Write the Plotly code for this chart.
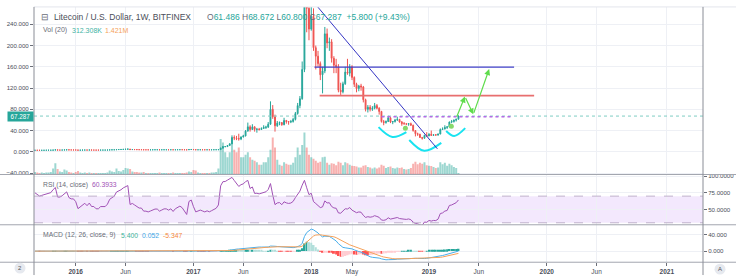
import numpy as np
import pandas as pd
import plotly.graph_objects as go

# ---------------- data (weekly LTC/USD, Bitfinex) ----------------
first_week = "2015-08-31"
first_open = 2.90
close = [
    2.95, 2.90, 2.85, 2.90, 2.95, 3.05, 3.05, 3.10, 3.35, 3.60, 3.30, 3.30, 3.40, 3.60, 3.75, 3.55, 3.50, 3.50,
    3.40, 3.10, 3.20, 3.30, 3.40, 3.30, 3.45, 3.30, 3.30, 3.20, 3.20, 3.30, 3.30, 3.30, 3.40, 3.65, 3.75, 3.85, 4.20, 4.30,
    4.45, 4.70, 4.90, 5.10, 4.20, 4.30, 4.20, 4.10, 4.00, 4.00, 3.80, 3.80, 3.75, 3.80, 3.85, 3.90, 3.90, 3.80, 3.85, 3.90,
    3.90, 3.85, 3.90, 3.80, 3.90, 3.95, 4.00, 3.95, 3.85, 3.70, 4.30, 4.40,
    4.10, 3.80, 3.85, 3.90, 3.85, 3.80, 3.85, 3.80, 3.85, 3.90, 3.95, 4.10, 6.80, 9.60, 9.80, 11.8, 15.0, 27.0, 26.0, 25.0,
    24.0, 28.0, 30.0, 39.0, 47.0, 42.0, 47.0, 42.0, 42.5, 42.0, 44.0, 46.0, 46.5, 52.0, 80.0, 66.0, 49.0, 54.0, 55.0, 51.0,
    59.0, 57.0, 56.0, 57.0, 61.0, 72.0, 87.0, 100.0, 155.0, 305.0, 270.0, 231.0,
    255, 196, 180, 166, 145, 152, 222, 205, 207, 176, 163, 160, 116, 113, 128, 150, 148, 160, 140, 127,
    119, 124, 122, 98, 80, 84, 80, 82, 87, 82, 76, 57, 55, 57, 64, 56, 57, 60, 61, 56,
    53, 53, 52, 53, 50, 40, 34, 33, 27, 25.5, 31, 30, 33,
    31, 32, 31.5, 33.5, 42, 43, 46, 47, 56, 57, 59.5, 61.486, 67.287,
]
high = [
    3.05, 3.00, 2.95, 2.98, 3.00, 3.10, 3.15, 3.20, 3.50, 4.90, 3.80, 3.45, 3.50, 3.70, 4.10, 3.85, 3.65, 3.60,
    3.60, 3.45, 3.30, 3.40, 3.50, 3.45, 3.60, 3.50, 3.40, 3.35, 3.30, 3.35, 3.40, 3.40, 3.50, 3.75, 3.90, 4.00, 4.35, 4.50,
    4.60, 4.90, 5.30, 6.10, 5.30, 4.50, 4.40, 4.30, 4.20, 4.10, 4.05, 3.90, 3.85, 3.90, 3.95, 4.00, 4.00, 3.95, 3.90, 3.95,
    3.95, 3.95, 3.95, 3.95, 3.95, 4.00, 4.10, 4.05, 4.00, 3.90, 4.50, 4.60,
    4.80, 4.20, 3.95, 4.00, 3.95, 3.90, 3.90, 3.90, 3.95, 4.00, 4.05, 4.30, 8.00, 11.0, 10.5, 12.5, 16.0, 31.0, 31.0, 30.0,
    34.0, 29.0, 32.0, 41.0, 55.0, 50.0, 52.0, 48.0, 45.0, 45.0, 46.0, 50.0, 49.0, 56.0, 95.0, 88.0, 70.0, 58.0, 57.0, 56.0,
    64.0, 60.0, 58.0, 60.0, 64.0, 75.0, 92.0, 105.0, 170.0, 375.0, 350.0, 290.0,
    295, 270, 200, 190, 170, 160, 235, 232, 215, 212, 180, 175, 165, 130, 132, 160, 175, 165, 163, 142,
    130, 126, 128, 124, 100, 88, 88, 86, 92, 90, 84, 77, 60, 59, 68, 66, 58, 62, 66, 62,
    58, 56, 54, 54, 55, 51, 41, 36, 34, 28, 32, 37, 35,
    40, 33, 33.5, 34, 44, 46, 50, 48, 57, 60, 61, 62, 68.672,
]
low = [
    2.80, 2.82, 2.78, 2.80, 2.85, 2.90, 2.98, 3.00, 3.05, 3.20, 3.10, 3.10, 3.20, 3.30, 3.50, 3.40, 3.40, 3.40,
    3.30, 3.00, 3.05, 3.15, 3.25, 3.20, 3.25, 3.20, 3.20, 3.10, 3.10, 3.15, 3.20, 3.20, 3.25, 3.35, 3.55, 3.65, 3.80, 4.10,
    4.20, 4.35, 4.60, 4.70, 3.90, 4.00, 4.10, 4.00, 3.90, 3.90, 3.60, 3.70, 3.65, 3.70, 3.75, 3.80, 3.80, 3.75, 3.75, 3.80,
    3.85, 3.80, 3.80, 3.70, 3.75, 3.85, 3.90, 3.90, 3.80, 3.60, 3.65, 4.20,
    3.90, 3.50, 3.75, 3.80, 3.80, 3.70, 3.75, 3.75, 3.75, 3.80, 3.85, 3.90, 4.00, 6.50, 8.80, 9.50, 11.5, 14.5, 22.0, 22.0,
    21.0, 22.0, 27.0, 29.0, 38.0, 38.0, 41.0, 38.0, 36.0, 40.0, 41.0, 43.0, 43.0, 45.0, 51.0, 62.0, 38.0, 47.0, 50.0, 49.0,
    50.0, 53.0, 51.0, 54.0, 55.0, 59.0, 70.0, 82.0, 98.0, 150.0, 225.0, 210.0,
    228, 190, 155, 160, 135, 110, 148, 195, 190, 168, 148, 148, 112, 107, 110, 126, 145, 142, 135, 122,
    112, 114, 115, 93, 76, 74, 76, 77, 80, 80, 70, 55, 50, 53, 56, 54, 52, 55, 58, 55,
    49, 51, 50, 49, 49, 38, 29, 30, 26, 23, 25, 28, 29.5,
    30, 30, 30.5, 30.5, 33, 41, 42, 43, 46, 54, 55, 57, 60.8,
]
volume_m = [
    0.5, 0.4, 0.3, 0.4, 0.3, 0.4, 0.4, 0.5, 1.2, 2.3, 1.1, 0.6, 0.5, 1.0, 0.8, 0.5, 0.4, 0.3,
    0.5, 0.7, 0.4, 0.3, 0.4, 0.3, 0.4, 0.3, 0.3, 0.3, 0.3, 0.3, 0.3, 0.3, 0.4, 0.8, 0.6, 0.5, 1.2, 0.7,
    0.6, 0.9, 1.3, 1.2, 1.1, 0.6, 0.5, 0.5, 0.4, 0.4, 0.5, 0.3, 0.3, 0.3, 0.3, 0.3, 0.3, 0.4, 0.3, 0.3,
    0.3, 0.3, 0.3, 0.4, 0.3, 0.3, 0.3, 0.3, 0.3, 0.4, 0.6, 0.5,
    0.9, 0.8, 0.4, 0.3, 0.3, 0.3, 0.3, 0.3, 0.4, 0.4, 0.5, 1.2, 7.2, 6.5, 4.5, 3.5, 4.5, 6.5, 5.0, 4.5,
    5.5, 3.5, 3.5, 4.0, 4.5, 3.5, 3.0, 2.8, 2.5, 2.0, 2.0, 2.5, 2.5, 3.5, 5.0, 7.5, 5.5, 3.0, 2.0, 1.8,
    2.5, 2.2, 2.0, 2.0, 2.4, 3.5, 5.5, 4.0, 6.0, 8.5, 5.5, 4.0,
    3.5, 3.2, 2.8, 2.4, 2.6, 3.5, 3.6, 2.4, 2.0, 2.3, 2.2, 1.9, 2.6, 2.4, 1.9, 2.5, 2.3, 2.0, 1.8, 1.7,
    1.6, 1.4, 1.4, 1.8, 1.9, 1.5, 1.4, 1.2, 1.4, 1.2, 1.4, 2.0, 1.8, 1.3, 1.5, 1.6, 1.3, 1.2, 1.4, 1.3,
    1.4, 1.1, 1.0, 1.1, 1.3, 2.2, 2.6, 2.1, 2.4, 2.2, 2.5, 1.9, 1.8,
    1.7, 1.5, 1.3, 1.4, 2.5, 2.1, 2.4, 1.8, 2.2, 1.9, 1.5, 1.3, 0.31,
]

x_ticks = ["2016-01-04", "2016-06-06", "2017-01-02", "2017-06-05", "2018-01-01", "2018-05-07",
           "2018-12-31", "2019-06-03", "2019-12-30", "2020-06-01", "2021-01-04"]
x_labels = ["2016", "Jun", "2017", "Jun", "2018", "May", "2019", "Jun", "2020", "Jun", "2021"]
x_is_year = [True, False, True, False, True, False, True, False, True, False, True]
x_range = ["2015-08-28", "2021-04-26"]
price_ticks = [-40, 0, 40, 80, 120, 160, 200, 240]
price_range = [-42.7, 272.7]
rsi_ticks = [50, 75, 100]
rsi_range = [27.0, 102.5]
macd_ticks = [0, 40]
macd_range = [-27, 64]
vol_range = [0, 34]

last_price = 67.287
title_txt = "Litecoin / U.S. Dollar, 1W, BITFINEX"
ohlc_vals = [("O", "61.486"), ("H", "68.672"), ("L", "60.800"), ("C", "67.287")]
change_txt = "+5.800 (+9.43%)"
vol_now, vol_ma = "312.308K", "1.421M"
rsi_last = "60.3933"
macd_vals = ["5.400", "0.052", "-5.347"]

# user drawings (date, price)
trend_x, trend_y = ["2018-01-21", "2019-01-26"], [272.7, 5.6]
resist_x, resist_y = ["2018-01-11", "2019-09-20"], 159.5
support_x, support_y = ["2018-01-27", "2019-11-21"], 105.8
neck_x, neck_y = ["2018-08-06", "2019-09-14"], 65.9
arc_x = [["2018-07-28", "2018-09-09", "2018-10-22"],
         ["2018-10-31", "2018-12-16", "2019-02-07"],
         ["2019-02-22", "2019-03-19", "2019-04-22"]]
arc_y = [[46.4, 27.8, 37.1], [22.3, 1.9, 16.7], [39.0, 29.7, 44.5]]
dot_x, dot_y = ["2018-10-19", "2019-03-10"], [44.5, 48.0]
path_x = ["2019-03-25", "2019-04-21", "2019-05-17", "2019-07-05"]
path_y = [63.1, 103.9, 70.5, 155.8]

# ---------------- styles ----------------
W, H = 736, 280
FONT = "Liberation Sans"
TEAL, RED = "#26a69a", "#ef5350"
VOL_UP, VOL_DN = "rgba(38,166,154,0.45)", "rgba(239,83,80,0.45)"
GRID = "#eef0f5"
AXC = "#6b6e78"
TXT = "#4a4e59"
RSI_C = "#a152b5"
MACD_C, SIG_C = "#4aaeea", "#f5a15a"


def px(v):
    return v / W


def py(v):
    return 1 - v / H


dates = pd.date_range(first_week, periods=len(close), freq="7D")
opens = [first_open] + close[:-1]
rising = [c >= o for c, o in zip(close, opens)]

# indicators from closes
c = np.asarray(close, float)
chg = np.diff(c)
gains = np.where(chg > 0, chg, 0.0)
losses = np.where(chg < 0, -chg, 0.0)
ag, al = gains[:14].mean(), losses[:14].mean()
rsi = [100 - 100 / (1 + ag / al)]
for g, l in zip(gains, losses):
    ag = (ag * 13 + g) / 14
    al = (al * 13 + l) / 14
    rsi.append(100 - 100 / (1 + ag / al) if al > 0 else 100.0)


def ema(arr, n):
    a = 2 / (n + 1)
    out = [arr[0]]
    for v in arr[1:]:
        out.append(out[-1] + a * (v - out[-1]))
    return np.array(out)


macd = ema(c, 12) - ema(c, 26)
signal = ema(macd, 9)
hist = macd - signal
hist_col = []
for i, hv in enumerate(hist):
    prev = hist[i - 1] if i else hv
    if hv >= 0:
        hist_col.append("#26a69a" if hv >= prev else "#b2dfdb")
    else:
        hist_col.append("#ffcdd2" if hv >= prev else "#ff5252")

fig = go.Figure()
fig.add_trace(go.Bar(x=dates, y=volume_m, marker_color=[VOL_UP if r else VOL_DN for r in rising],
                     marker_line_width=0, xaxis="x", yaxis="y", hoverinfo="skip"))
fig.add_trace(go.Candlestick(x=dates, open=opens, high=high, low=low, close=close, xaxis="x", yaxis="y2",
                             increasing=dict(line=dict(color=TEAL, width=1), fillcolor=TEAL),
                             decreasing=dict(line=dict(color=RED, width=1), fillcolor=RED),
                             whiskerwidth=0, hoverinfo="skip"))
for ax_, ay_ in zip(arc_x, arc_y):
    fig.add_trace(go.Scatter(x=ax_, y=ay_, mode="lines", line=dict(color="#19e3f0", width=2, shape="spline"),
                             xaxis="x", yaxis="y2", hoverinfo="skip"))
fig.add_trace(go.Scatter(x=dot_x, y=dot_y, mode="markers", marker=dict(color="#86d96a", size=5),
                         xaxis="x", yaxis="y2", hoverinfo="skip"))
fig.add_trace(go.Scatter(x=dates, y=rsi, mode="lines", line=dict(color=RSI_C, width=1),
                         xaxis="x2", yaxis="y3", hoverinfo="skip"))
fig.add_trace(go.Bar(x=dates, y=hist, marker_color=hist_col, marker_line_width=0,
                     xaxis="x3", yaxis="y4", hoverinfo="skip"))
fig.add_trace(go.Scatter(x=dates, y=macd, mode="lines", line=dict(color=MACD_C, width=1),
                         xaxis="x3", yaxis="y4", hoverinfo="skip"))
fig.add_trace(go.Scatter(x=dates, y=signal, mode="lines", line=dict(color=SIG_C, width=1),
                         xaxis="x3", yaxis="y4", hoverinfo="skip"))

tick_text = [f"<b>{t}</b>" if b else t for t, b in zip(x_labels, x_is_year)]
xcommon = dict(type="date", range=x_range, domain=[px(34), px(703)], showgrid=True, gridcolor=GRID,
               tickvals=x_ticks, ticktext=tick_text, zeroline=False, showline=False,
               rangeslider=dict(visible=False), fixedrange=True)
ylab = dict(family=FONT, size=6.1, color=TXT)

fig.update_layout(
    width=W, height=H, margin=dict(l=0, r=0, t=0, b=0),
    paper_bgcolor="white", plot_bgcolor="white", showlegend=False,
    bargap=0.12, boxgap=0.45, font=dict(family=FONT),
    xaxis=dict(**xcommon, anchor="y", showticklabels=False, ticks=""),
    xaxis2=dict(**xcommon, anchor="y3", matches="x", showticklabels=False, ticks=""),
    xaxis3=dict(**xcommon, anchor="y4", matches="x", showticklabels=True, ticks="outside", ticklen=3,
                tickcolor=AXC, tickfont=dict(family=FONT, size=6.5, color=TXT)),
    yaxis=dict(domain=[py(175), py(5)], range=vol_range, visible=False, fixedrange=True),
    yaxis2=dict(overlaying="y", anchor="x", side="left", range=price_range, tickvals=price_ticks,
                tickformat=".3f", ticks="outside", ticklen=3, tickcolor=AXC, tickfont=ylab,
                showgrid=True, gridcolor=GRID, zeroline=False, showline=False, fixedrange=True,
                ticklabeloverflow="allow"),
    yaxis3=dict(domain=[py(226), py(175)], anchor="x2", side="right", range=rsi_range, tickvals=rsi_ticks,
                tickformat=".4f", ticks="outside", ticklen=3, tickcolor=AXC, tickfont=ylab,
                showgrid=True, gridcolor=GRID, zeroline=False, fixedrange=True, ticklabeloverflow="allow"),
    yaxis4=dict(domain=[py(264), py(226)], anchor="x3", side="right", range=macd_range, tickvals=macd_ticks,
                tickformat=".3f", ticks="outside", ticklen=3, tickcolor=AXC, tickfont=ylab,
                showgrid=True, gridcolor=GRID, zeroline=False, fixedrange=True, ticklabeloverflow="allow"),
)

shapes = []
# RSI band
shapes.append(dict(type="rect", xref="paper", yref="y3", x0=px(34), x1=px(703), y0=30, y1=70,
                   fillcolor="#f3e8fd", line=dict(width=0), layer="below"))
for lvl in (30, 70):
    shapes.append(dict(type="line", xref="paper", yref="y3", x0=px(34), x1=px(703), y0=lvl, y1=lvl,
                       line=dict(color="#bfb0cc", width=1, dash="dash")))
# last price line
shapes.append(dict(type="line", xref="paper", yref="y2", x0=px(34), x1=px(703), y0=last_price, y1=last_price,
                   line=dict(color="#7fcdc3", width=1, dash="dot")))
# drawings
shapes.append(dict(type="line", xref="x", yref="y2", x0=trend_x[0], x1=trend_x[1], y0=trend_y[0], y1=trend_y[1],
                   line=dict(color="#3535c4", width=1)))
shapes.append(dict(type="line", xref="x", yref="y2", x0=resist_x[0], x1=resist_x[1], y0=resist_y, y1=resist_y,
                   line=dict(color="#4040c8", width=1.3)))
shapes.append(dict(type="line", xref="x", yref="y2", x0=support_x[0], x1=support_x[1], y0=support_y, y1=support_y,
                   line=dict(color="#e86f6f", width=1.6)))
shapes.append(dict(type="line", xref="x", yref="y2", x0=neck_x[0], x1=neck_x[1], y0=neck_y, y1=neck_y,
                   line=dict(color="#b46ae6", width=1.6, dash="dot")))
# pane frames
for yy in (175, 226, 264):
    shapes.append(dict(type="line", xref="paper", yref="paper", x0=0, x1=1, y0=py(yy), y1=py(yy),
                       line=dict(color="#a3a6af", width=1)))
shapes.append(dict(type="line", xref="paper", yref="paper", x0=px(34), x1=1, y0=py(5), y1=py(5),
                   line=dict(color="#e3e6ec", width=1)))
for xx in (34, 703):
    shapes.append(dict(type="line", xref="paper", yref="paper", x0=px(xx), x1=px(xx), y0=py(5), y1=py(277),
                       line=dict(color="#8a8d96", width=1)))
# corner buttons
for cx, cy in ((20, 270), (720, 271)):
    shapes.append(dict(type="circle", xref="paper", yref="paper", x0=px(cx - 5.5), x1=px(cx + 5.5),
                       y0=py(cy + 5.5), y1=py(cy - 5.5), fillcolor="#e6e9ef", line=dict(width=0)))
fig.update_layout(shapes=shapes)

ann = []


def text(x, y, s, size, color, anchor="left"):
    ann.append(dict(xref="paper", yref="paper", x=px(x), y=py(y), text=s, showarrow=False,
                    xanchor=anchor, yanchor="middle", font=dict(family=FONT, size=size, color=color)))


text(44.5, 15.5, "⊟", 9, "#6a6d78", "center")
text(52, 15.5, title_txt, 8.5, TXT)
ohlc_html = " ".join(f"{k}<span style='color:{TEAL}'>{v}</span>" for k, v in ohlc_vals)
text(205, 15.5, ohlc_html + f"  <span style='color:{TEAL}'>{change_txt}</span>", 8.5, "#6a6d78")
text(41, 28.5, "Vol (20)", 7, "#6a6d78")
text(69.5, 28.5, vol_now, 7, "#3fb3a5")
text(102.5, 28.5, vol_ma, 7, "#f5a25a")
text(41, 185.5, "RSI (14, close)", 6.8, "#6a6d78")
text(90, 185.5, rsi_last, 6.8, RSI_C)
text(41, 236.7, "MACD (12, 26, close, 9)", 6.8, "#6a6d78")
for xv, val, col in zip((118.5, 139.5, 160.5), macd_vals, ("#3fb39b", "#3fa6e6", "#f5893c")):
    text(xv, 236.7, val, 6.8, col)
text(20, 270, "2", 6, "#555", "center")
text(720, 271, "A", 6, "#555", "center")
# price label
ann.append(dict(xref="paper", yref="y2", x=px(20.5), y=last_price, text=format(last_price, ".3f"),
                showarrow=False, xanchor="center", yanchor="middle", bgcolor=TEAL, borderpad=1,
                font=dict(family=FONT, size=6.3, color="white"), width=23))
# green arrow path
for k in range(len(path_x) - 1):
    ann.append(dict(xref="x", yref="y2", axref="x", ayref="y2", x=path_x[k + 1], y=path_y[k + 1],
                    ax=path_x[k], ay=path_y[k], text="", showarrow=True, arrowhead=2, arrowsize=1,
                    arrowwidth=1.2, arrowcolor="#5fdc4c"))
fig.update_layout(annotations=ann)

fig.write_html("out.html", config={"displayModeBar": False})
